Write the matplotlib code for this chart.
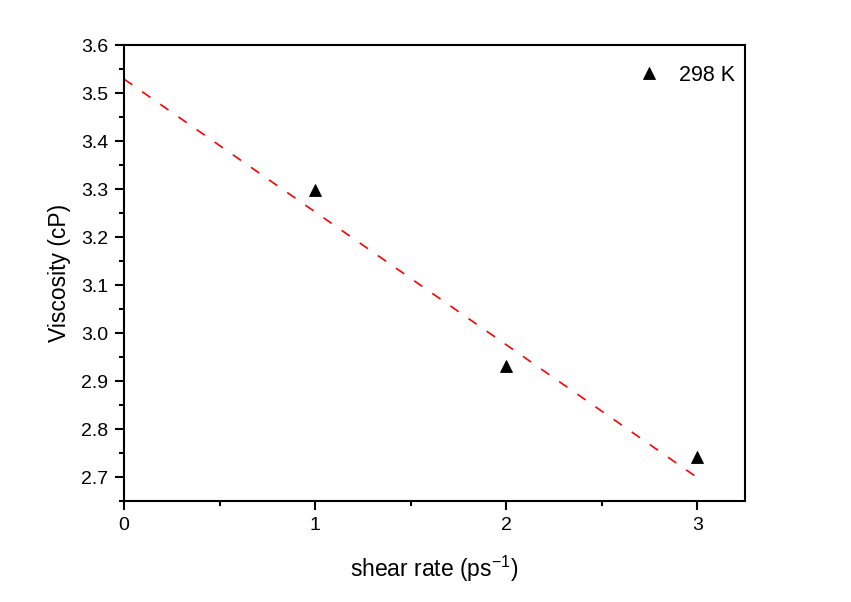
import matplotlib
matplotlib.use("Agg")
import matplotlib.pyplot as plt
from matplotlib.ticker import MultipleLocator

plt.rcParams['font.family'] = ['Liberation Sans', 'DejaVu Sans']
plt.rcParams['lines.scale_dashes'] = False

# data
shear_rate = [1, 2, 3]
viscosity = [3.298, 2.931, 2.742]
series_label = "298 K"
fit_x = [0, 3]
fit_intercept = 3.529
fit_slope = -0.2767
x_ticks = [0, 1, 2, 3]
y_ticks = [2.7, 2.8, 2.9, 3.0, 3.1, 3.2, 3.3, 3.4, 3.5, 3.6]

fig = plt.figure(figsize=(8.51, 6.02), dpi=100)
ax = fig.add_axes([124/851, 1-501/602, (745-124)/851, (501-45)/602])

fit_y = [fit_intercept + fit_slope * x for x in fit_x]
ax.plot(fit_x, fit_y, color='#ff0000', lw=1.2, dashes=(7.2, 8.7))
ax.plot(shear_rate, viscosity, linestyle='none', marker='^', ms=8.5,
        color='black', mew=0.6, label=series_label)

ax.set_xlim(0, 3.25)
ax.set_ylim(2.65, 3.6)
ax.set_xticks(x_ticks)
ax.set_yticks(y_ticks)
ax.set_yticklabels([f"{v:.1f}" for v in y_ticks])
ax.xaxis.set_minor_locator(MultipleLocator(0.5))
ax.yaxis.set_minor_locator(MultipleLocator(0.05))

for s in ax.spines.values():
    s.set_linewidth(1.5)
ax.tick_params(which='major', direction='out', length=6.5, width=1.5, labelsize=14, pad=5)
ax.tick_params(which='minor', direction='out', length=3.5, width=1.5)
ax.tick_params(top=False, right=False, which='both')

ax.set_xlabel("shear rate (ps$^{\\mathregular{-1}}$)", fontsize=16.5, labelpad=14)
ax.set_ylabel("Viscosity (cP)", fontsize=16.5, labelpad=7)

ax.legend(loc='upper right', bbox_to_anchor=(1.008, 0.99), frameon=False,
          fontsize=15.5, handletextpad=0.8, handlelength=1.2,
          borderaxespad=0.3, markerscale=1.0)

fig.savefig("out.png", dpi=100)
